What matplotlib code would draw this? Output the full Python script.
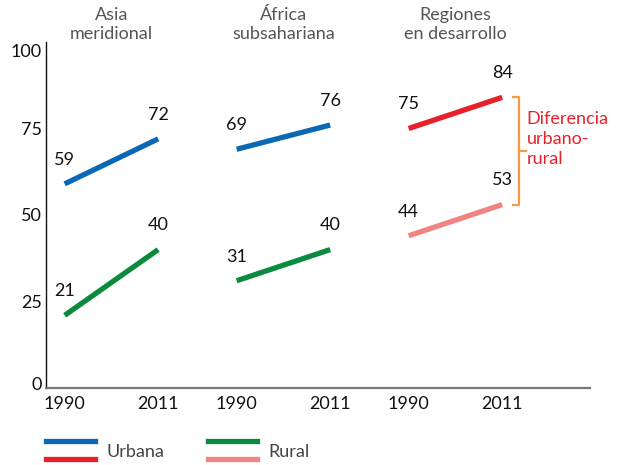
import numpy as np
import matplotlib
matplotlib.use("Agg")
import matplotlib.pyplot as plt
import matplotlib.transforms as mtrans

plt.rcParams['font.family'] = ['Lato', 'DejaVu Sans']

regions = ["Asia\nmeridional", "África\nsubsahariana", "Regiones\nen desarrollo"]
years = ["1990", "2011"]
urban = [[59, 72], [69, 76], [75, 84]]
rural = [[21, 40], [31, 40], [44, 53]]
urban_colors = ["#0A68B4", "#0A68B4", "#E8202A"]
rural_colors = ["#0B8A3E", "#0B8A3E", "#F28383"]
yticks = [0, 25, 50, 75, 100]
gap_label = "Diferencia\nurbano-\nrural"

group_step = 1.84
fig = plt.figure(figsize=(6.19, 4.65), dpi=100)
ax = fig.add_axes([46 / 619, 1 - 388 / 465, (590 - 46) / 619, (388 - 42) / 465])

xpos = []
for i in range(len(regions)):
    xs = np.array([0, 1]) + i * group_step
    xpos.extend(xs)
    ax.plot(xs, urban[i], color=urban_colors[i], lw=3.8, solid_capstyle='butt')
    ax.plot(xs, rural[i], color=rural_colors[i], lw=3.8, solid_capstyle='butt')
    for x, u, r in zip(xs, urban[i], rural[i]):
        ax.text(x, u + 7, str(u), ha='center', va='center', fontsize=13, color='#111')
        ax.text(x, r + 7, str(r), ha='center', va='center', fontsize=13, color='#111')
    ax.text(xs.mean(), 1.0, regions[i], transform=ax.get_xaxis_transform(),
            ha='center', va='bottom', fontsize=13, color='#555', linespacing=1.2)

# bracket for urban-rural gap in developing regions
bx = 2 * group_step + 1.12
bw = 0.065
top, bot = urban[2][1], rural[2][1]
mid = (top + bot) / 2
ax.plot([bx, bx + bw, bx + bw, bx], [top, top, bot, bot], color='#F79A45', lw=1.6,
        solid_joinstyle='round')
ax.plot([bx + bw, bx + 2 * bw], [mid, mid], color='#F79A45', lw=1.6)
ax.text(bx + 2.2 * bw, mid + 3.5, gap_label, ha='left', va='center', fontsize=13,
        color='#E8202A', linespacing=1.3)

ax.set_xlim(-0.2, 5.62)
ax.set_ylim(0, 100)
ax.set_xticks(xpos)
ax.set_xticklabels(years * len(regions))
ax.set_yticks(yticks)
ax.tick_params(length=0, labelsize=13, colors='#111', pad=6)
ax.tick_params(axis='y', pad=3)
for s in ['top', 'right']:
    ax.spines[s].set_visible(False)
ax.spines['left'].set_color('#111')
ax.spines['left'].set_linewidth(1.0)
ax.spines['bottom'].set_color('#777')
ax.spines['bottom'].set_linewidth(1.6)

# nudge end labels like the original (0 sits a bit up, 100 a bit down)
ylabs = ax.get_yticklabels()
ylabs[0].set_transform(ylabs[0].get_transform() + mtrans.ScaledTranslation(0, 4 / 100, fig.dpi_scale_trans))
ylabs[-1].set_transform(ylabs[-1].get_transform() + mtrans.ScaledTranslation(0, -9 / 100, fig.dpi_scale_trans))

# legend
def fx(p):
    return p / 619

def fy(p):
    return 1 - p / 465

fig.add_artist(plt.Line2D([fx(46), fx(95)], [fy(441), fy(441)], color=urban_colors[0], lw=3.8))
fig.add_artist(plt.Line2D([fx(46), fx(95)], [fy(459), fy(459)], color=urban_colors[2], lw=3.8))
fig.add_artist(plt.Line2D([fx(208), fx(257)], [fy(441), fy(441)], color=rural_colors[0], lw=3.8))
fig.add_artist(plt.Line2D([fx(208), fx(257)], [fy(459), fy(459)], color=rural_colors[2], lw=3.8))
fig.text(fx(106), fy(452), "Urbana", ha='left', va='center', fontsize=13, color='#444')
fig.text(fx(268), fy(452), "Rural", ha='left', va='center', fontsize=13, color='#444')

fig.savefig("out.png", dpi=100)
